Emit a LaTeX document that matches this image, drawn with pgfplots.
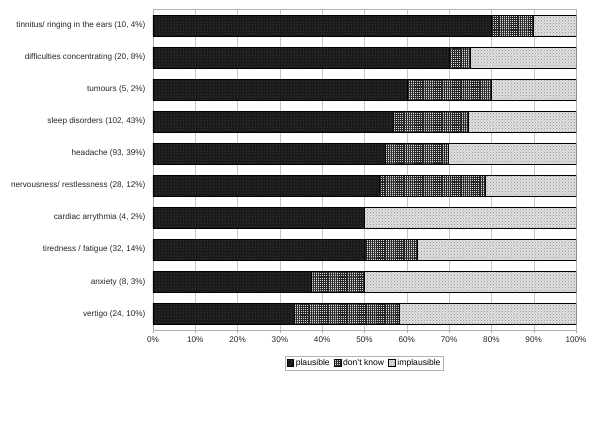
\documentclass[border=0pt]{standalone}
\usepackage{pgfplots}
\pgfplotsset{compat=1.18}
\usepackage{pgfplotstable}
\usepackage{fontspec}
\setmainfont{Liberation Sans}
\usetikzlibrary{patterns,patterns.meta}

\pgfplotstableread{
y plaus dk implaus
0 33.3 25.0 41.7
1 37.5 12.5 50.0
2 50.0 12.5 37.5
3 50.0 0 50.0
4 53.6 25.0 21.4
5 54.8 15.1 30.1
6 56.9 17.6 25.5
7 60.0 20.0 20.0
8 70.0 5.0 25.0
9 80.0 10.0 10.0
}\data

\begin{document}
\begin{tikzpicture}
\path[use as bounding box] (-153pt,-94pt) rectangle (447pt,330pt);
\begin{axis}[
  scale only axis, width=423pt, height=320.5pt,
  at={(0pt,0pt)}, anchor=south west,
  xbar stacked, bar width=21pt,
  xmin=0, xmax=100, ymin=-0.5, ymax=9.5,
  xtick={0,10,...,100},
  xticklabels={0\%,10\%,20\%,30\%,40\%,50\%,60\%,70\%,80\%,90\%,100\%},
  ytick={0,...,9},
  yticklabels={{vertigo (24, 10\%)},{anxiety (8, 3\%)},{tiredness / fatigue (32, 14\%)},{cardiac arrythmia (4, 2\%)},{nervousness/ restlessness (28, 12\%)},{headache (93, 39\%)},{sleep disorders (102, 43\%)},{tumours (5, 2\%)},{difficulties concentrating (20, 8\%)},{tinnitus/ ringing in the ears (10, 4\%)}},
  xmajorgrids, major grid style={gray!45, line width=0.4pt},
  axis line style={gray!60, line width=0.5pt},
  y tick style={draw=none},
  x tick style={gray!70, line width=0.4pt},
  tick align=outside, xtick pos=bottom, major tick length=3pt,
  tick label style={font=\fontsize{8.2}{9}\selectfont, text=black!85},
  yticklabel style={xshift=-1pt},
  legend style={at={(0.5,-0.103)}, anchor=center, legend columns=-1,
    draw=gray!60, font=\fontsize{8.6}{9}\selectfont, inner sep=1.2pt,
    /tikz/every even column/.append style={column sep=2pt}},
  legend image code/.code={\draw[#1] (0pt,-3.4pt) rectangle (6.8pt,3.4pt);},
  every axis plot/.append style={draw=black, line width=0.5pt},
]
\addplot[fill=black!90, postaction={pattern=dots, pattern color=black!60}] table[x=plaus, y=y] {\data};
\addplot[fill=black!15,
  postaction={pattern={Lines[angle=0,distance=1.9pt,line width=0.55pt]}, pattern color=black!85},
  postaction={pattern={Lines[angle=90,distance=1.9pt,line width=0.55pt]}, pattern color=black!85}] table[x=dk, y=y] {\data};
\addplot[fill=black!12, postaction={pattern=crosshatch dots, pattern color=black!45}] table[x=implaus, y=y] {\data};
\legend{plausible, don't know, implausible}
\end{axis}
\end{tikzpicture}
\end{document}
